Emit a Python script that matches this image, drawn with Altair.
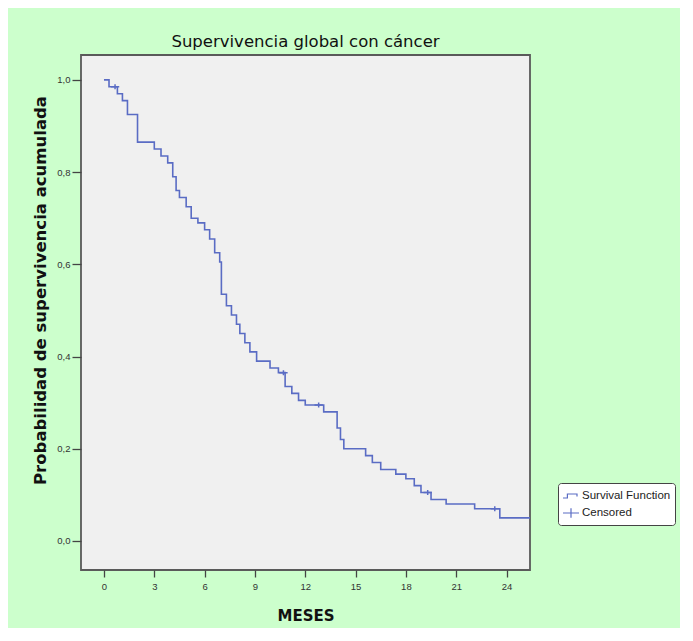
import altair as alt
import pandas as pd

# Kaplan-Meier step function (months, cumulative survival)
event_times = [0.0, 0.3, 0.8, 1.1, 1.4, 2.0, 3.0, 3.4, 3.8, 4.1, 4.3, 4.5, 4.9, 5.2, 5.6,
               6.0, 6.3, 6.6, 6.9, 7.0, 7.3, 7.6, 7.9, 8.1, 8.4, 8.7, 9.1, 9.9, 10.4,
               10.8, 11.2, 11.6, 12.0, 13.1, 13.9, 14.1, 14.3, 15.6, 16.0, 16.5, 17.4,
               18.0, 18.5, 18.9, 19.5, 20.4, 22.1, 23.6, 25.4]
survival = [1.0, 0.985, 0.97, 0.955, 0.925, 0.865, 0.85, 0.835, 0.82, 0.79, 0.76, 0.745,
            0.725, 0.70, 0.69, 0.675, 0.655, 0.625, 0.605, 0.535, 0.51, 0.49, 0.47, 0.45,
            0.43, 0.41, 0.39, 0.375, 0.365, 0.335, 0.32, 0.305, 0.295, 0.28, 0.245, 0.22,
            0.20, 0.185, 0.17, 0.155, 0.145, 0.135, 0.12, 0.105, 0.09, 0.08, 0.07, 0.05, 0.05]

censor_times = [0.66, 10.7, 12.8, 19.3, 23.3]
censor_surv = [0.985, 0.365, 0.295, 0.105, 0.07]

x_ticks = [0, 3, 6, 9, 12, 15, 18, 21, 24]
y_ticks = [0.0, 0.2, 0.4, 0.6, 0.8, 1.0]
legend_labels = ["Survival Function", "Censored"]

BLUE = "#5a6cc4"
STEP_PATH = "M-1,0.25L-0.45,0.25L-0.45,-0.25L0.75,-0.25L0.75,0.05"
CROSS_PATH = "M-1,0L1,0M0,-0.6L0,0.6"

line_df = pd.DataFrame({"t": event_times, "s": survival, "serie": legend_labels[0]})
cens_df = pd.DataFrame({"t": censor_times, "s": censor_surv, "serie": legend_labels[1]})

x_enc = alt.X("t:Q",
              scale=alt.Scale(domain=[-1.37, 25.4], nice=False, zero=False),
              axis=alt.Axis(values=x_ticks, format="d", title="MESES", tickSize=7,
                            labelPadding=4, domain=False, grid=False,
                            titleFont="DejaVu Sans", titleFontSize=15, titleFontWeight="bold",
                            titlePadding=18, titleColor="#111"))
y_enc = alt.Y("s:Q",
              scale=alt.Scale(domain=[-0.063, 1.054], nice=False, zero=False),
              axis=alt.Axis(values=y_ticks, title="Probabilidad de supervivencia acumulada",
                            labelExpr="replace(format(datum.value, '.1f'), '.', ',')",
                            tickSize=9, labelPadding=2, domain=False, grid=False,
                            titleFont="DejaVu Sans", titleFontSize=16.5, titleFontWeight="bold",
                            titlePadding=8, titleColor="#111", titleY=235))

line = alt.Chart(line_df).mark_line(interpolate="step-after", color=BLUE,
                                    strokeWidth=1.6, clip=True).encode(x=x_enc, y=y_enc)

cross_pts = alt.Chart(cens_df).mark_point(filled=False, color=BLUE, size=70,
                                          strokeWidth=1.5, opacity=1, clip=True).encode(
    x=x_enc, y=y_enc,
    shape=alt.Shape("serie:N",
                    scale=alt.Scale(domain=legend_labels, range=[STEP_PATH, CROSS_PATH]),
                    legend=alt.Legend(title=None, orient="none", legendX=477, legendY=428,
                                      fillColor="white", strokeColor="#444",
                                      cornerRadius=3, padding=4, symbolSize=256,
                                      symbolStrokeWidth=1.2, symbolStrokeColor=BLUE,
                                      labelFont="Liberation Sans", labelFontSize=11.5,
                                      labelColor="#222", rowPadding=2, symbolOffset=0,
                                      labelOffset=2)))

chart = alt.layer(line, cross_pts).properties(
    width=449, height=515,
    autosize=alt.AutoSizeParams(type="none"),
    padding={"left": 73, "top": 47, "right": 150, "bottom": 58},
    background="#ccffcc",
    title=alt.TitleParams("Supervivencia global con cáncer", font="DejaVu Sans",
                          fontSize=16.5, fontWeight="normal", color="#111",
                          anchor="middle", offset=5),
).configure_view(
    fill="#f0f0f0", stroke="#5a5a5a", strokeWidth=1.8
).configure_axis(
    labelFont="Liberation Sans", labelFontSize=9.5, labelColor="#333",
    tickColor="#444", tickWidth=1.3
)

chart.save("out.html", embed_options={"renderer": "svg", "actions": False})
